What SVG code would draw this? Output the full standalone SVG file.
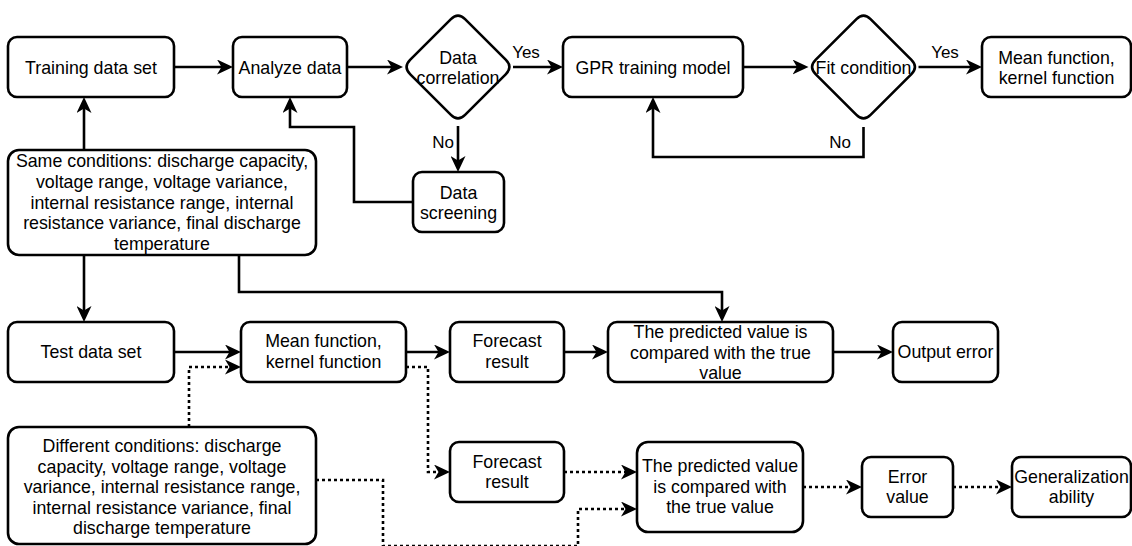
<svg xmlns="http://www.w3.org/2000/svg" width="1132" height="546" viewBox="0 0 1132 546">
<defs>
<marker id="arr" markerUnits="userSpaceOnUse" viewBox="0 0 16 15" refX="12" refY="7.5" markerWidth="16" markerHeight="15" orient="auto">
<path d="M0,0 L16,7.5 L0,15 L4.5,7.5 Z" fill="#000"/>
</marker>
</defs>
<style>
.box{fill:#fff;stroke:#000;stroke-width:2.6}
.t{font-family:"Liberation Sans",Arial,sans-serif;font-size:17.8px;fill:#000;text-anchor:middle}
.lbl{font-family:"Liberation Sans",Arial,sans-serif;font-size:17px;fill:#000;text-anchor:middle}
.c{fill:none;stroke:#000;stroke-width:2.6}
.d{fill:none;stroke:#000;stroke-width:2.6;stroke-dasharray:3 3}
</style>
<rect width="1132" height="546" fill="#fff"/>
<g id="connectors">
<path class="c" d="M174,67 L229,67" marker-end="url(#arr)"/>
<path class="c" d="M347,67 L399,67" marker-end="url(#arr)"/>
<path class="c" d="M513,67 L559,67" marker-end="url(#arr)"/>
<path class="c" d="M743,67 L804.5,67" marker-end="url(#arr)"/>
<path class="c" d="M918.5,67 L978,67" marker-end="url(#arr)"/>
<path class="c" d="M458,126 L458,168" marker-end="url(#arr)"/>
<path class="c" d="M863.5,127 L863.5,157 L653,157 L653,101" marker-end="url(#arr)"/>
<path class="c" d="M413,202 L354,202 L354,127 L290,127 L290,101" marker-end="url(#arr)"/>
<path class="c" d="M84,150 L84,101" marker-end="url(#arr)"/>
<path class="c" d="M84,255 L84,318" marker-end="url(#arr)"/>
<path class="c" d="M239,255 L239,292 L722,292 L722,318" marker-end="url(#arr)"/>
<path class="c" d="M174,352 L237,352" marker-end="url(#arr)"/>
<path class="c" d="M406,352 L446,352" marker-end="url(#arr)"/>
<path class="c" d="M564,352 L604,352" marker-end="url(#arr)"/>
<path class="c" d="M833,352 L889,352" marker-end="url(#arr)"/>
<path class="d" d="M189,427 L189,367 L237,367" marker-end="url(#arr)"/>
<path class="d" d="M406,367 L428,367 L428,472 L446,472" marker-end="url(#arr)"/>
<path class="d" d="M564,472 L633,472" marker-end="url(#arr)"/>
<path class="d" d="M316,480 L383,480 L383,546 L578,546 L578,509 L633,509" marker-end="url(#arr)"/>
<path class="d" d="M803,487 L858,487" marker-end="url(#arr)"/>
<path class="d" d="M953,487 L1008,487" marker-end="url(#arr)"/>
<text class="lbl" x="526" y="58">Yes</text>
<text class="lbl" x="945" y="58">Yes</text>
<text class="lbl" x="443" y="148">No</text>
<text class="lbl" x="840" y="148">No</text>
</g>
<g id="training">
<rect class="box" x="8" y="37" width="166" height="60" rx="9"/>
<text class="t" x="91" y="74">Training data set</text>
</g>
<g id="analyze">
<rect class="box" x="233" y="37" width="114" height="60" rx="9"/>
<text class="t" x="290" y="74">Analyze data</text>
</g>
<g id="correlation">
<path class="box" d="M450.93,19.07 Q458,12 465.07,19.07 L505.93,59.93 Q513,67 505.93,74.07 L465.07,114.93 Q458,122 450.93,114.93 L410.07,74.07 Q403,67 410.07,59.93 Z"/>
<text class="t" x="458" y="64">Data</text>
<text class="t" x="458" y="84">correlation</text>
</g>
<g id="gpr">
<rect class="box" x="563" y="37" width="180" height="60" rx="9"/>
<text class="t" x="653" y="74">GPR training model</text>
</g>
<g id="fit">
<path class="box" d="M856.43,19.07 Q863.5,12 870.57,19.07 L911.43,59.93 Q918.5,67 911.43,74.07 L870.57,114.93 Q863.5,122 856.43,114.93 L815.57,74.07 Q808.5,67 815.57,59.93 Z"/>
<text class="t" x="863.5" y="74">Fit condition</text>
</g>
<g id="mean-top">
<rect class="box" x="982" y="37" width="149" height="60" rx="9"/>
<text class="t" x="1056.5" y="64">Mean function,</text>
<text class="t" x="1056.5" y="84">kernel function</text>
</g>
<g id="screening">
<rect class="box" x="413" y="172" width="91" height="60" rx="9"/>
<text class="t" x="458.5" y="199">Data</text>
<text class="t" x="458.5" y="219">screening</text>
</g>
<g id="same">
<rect class="box" x="8" y="150" width="308" height="105" rx="11"/>
<text class="t" x="162" y="167">Same conditions: discharge capacity,</text>
<text class="t" x="162" y="188">voltage range, voltage variance,</text>
<text class="t" x="162" y="208.5">internal resistance range, internal</text>
<text class="t" x="162" y="229">resistance variance, final discharge</text>
<text class="t" x="162" y="250">temperature</text>
</g>
<g id="test">
<rect class="box" x="8" y="322" width="166" height="60" rx="9"/>
<text class="t" x="91" y="358">Test data set</text>
</g>
<g id="mean-bottom">
<rect class="box" x="241" y="322" width="165" height="60" rx="9"/>
<text class="t" x="323.5" y="347">Mean function,</text>
<text class="t" x="323.5" y="368">kernel function</text>
</g>
<g id="forecast1">
<rect class="box" x="450" y="322" width="114" height="60" rx="9"/>
<text class="t" x="507" y="347">Forecast</text>
<text class="t" x="507" y="368">result</text>
</g>
<g id="predicted1">
<rect class="box" x="608" y="322" width="225" height="60" rx="9"/>
<text class="t" x="720.5" y="338">The predicted value is</text>
<text class="t" x="720.5" y="358.5">compared with the true</text>
<text class="t" x="720.5" y="379">value</text>
</g>
<g id="output">
<rect class="box" x="893" y="322" width="105" height="60" rx="9"/>
<text class="t" x="945.5" y="358">Output error</text>
</g>
<g id="different">
<rect class="box" x="8" y="427" width="308" height="117" rx="11"/>
<text class="t" x="162" y="452">Different conditions: discharge</text>
<text class="t" x="162" y="472.5">capacity, voltage range, voltage</text>
<text class="t" x="162" y="493">variance, internal resistance range,</text>
<text class="t" x="162" y="513.5">internal resistance variance, final</text>
<text class="t" x="162" y="534">discharge temperature</text>
</g>
<g id="forecast2">
<rect class="box" x="450" y="442" width="114" height="60" rx="9"/>
<text class="t" x="507" y="468">Forecast</text>
<text class="t" x="507" y="488">result</text>
</g>
<g id="predicted2">
<rect class="box" x="637" y="442" width="166" height="90" rx="11"/>
<text class="t" x="720" y="472">The predicted value</text>
<text class="t" x="720" y="493">is compared with</text>
<text class="t" x="720" y="513">the true value</text>
</g>
<g id="error">
<rect class="box" x="862" y="457" width="91" height="60" rx="9"/>
<text class="t" x="907.5" y="483">Error</text>
<text class="t" x="907.5" y="503">value</text>
</g>
<g id="generalization">
<rect class="box" x="1012" y="457" width="119" height="60" rx="9"/>
<text class="t" x="1071.5" y="483">Generalization</text>
<text class="t" x="1071.5" y="503">ability</text>
</g>
</svg>
